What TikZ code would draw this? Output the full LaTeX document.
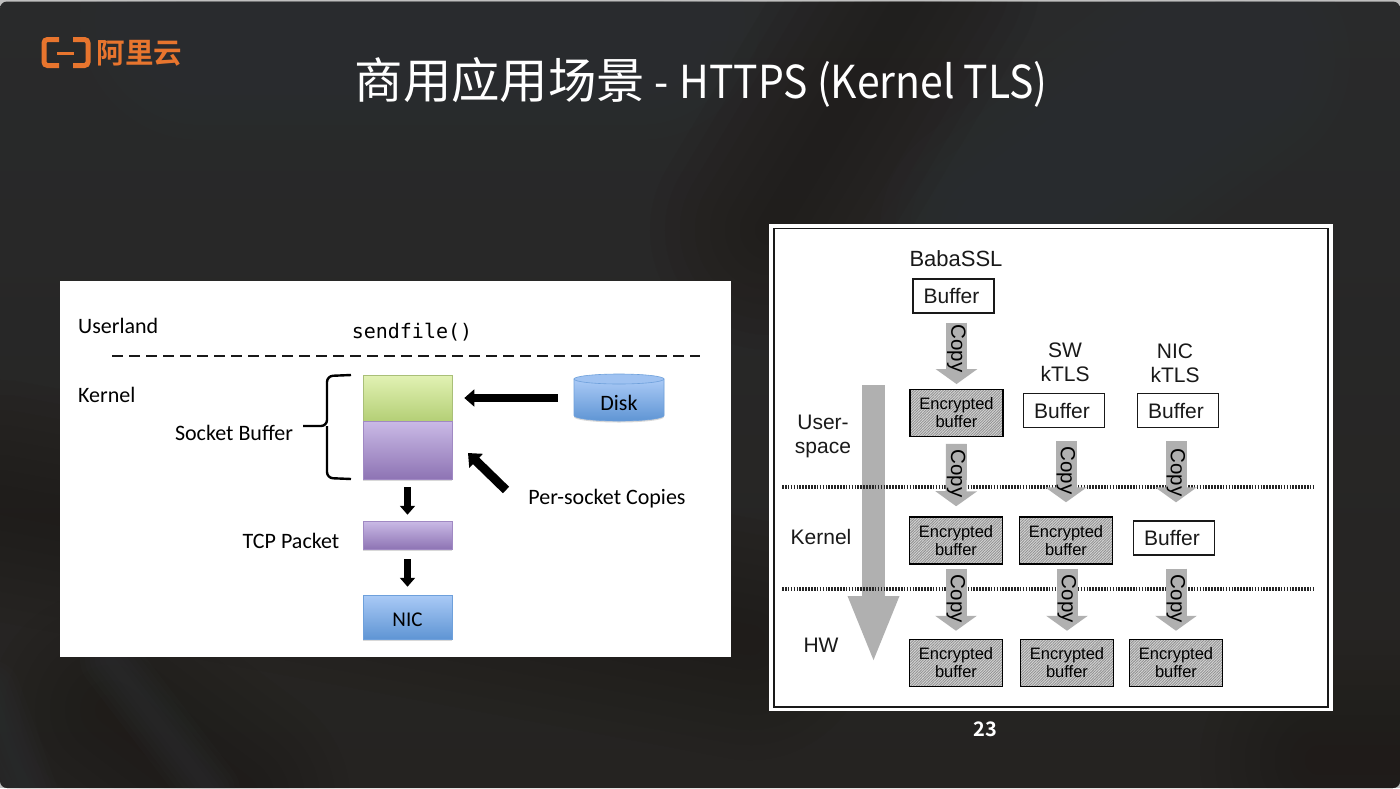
\documentclass[tikz,border=0pt]{standalone}
\usepackage{fontspec}
\newfontfamily\cjk{Noto Sans CJK SC}
\newfontfamily\cjkbold{Noto Sans CJK SC Bold}
\newfontfamily\titlelatin[FakeStretch=.9]{Noto Sans CJK SC}
\newfontfamily\carlito{Carlito}
\newfontfamily\libsans{Liberation Sans}
\newfontfamily\dejamono{DejaVu Sans Mono}
\usetikzlibrary{arrows.meta,patterns.meta,shadows}
\definecolor{slidetop}{HTML}{292A2B}
\definecolor{slidebot}{HTML}{252321}
\definecolor{bluestreak}{HTML}{2F3437}
\definecolor{brownstreak}{HTML}{1F1B18}
\definecolor{logoorange}{HTML}{E8752E}
\definecolor{copygray}{HTML}{B0B0B0}
\definecolor{greentop}{HTML}{E2F2B4}
\definecolor{greenbot}{HTML}{B4CF76}
\definecolor{purpletop}{HTML}{CABAE6}
\definecolor{purplebot}{HTML}{8E74B4}
\definecolor{bluetop}{HTML}{AACAF6}
\definecolor{bluebot}{HTML}{5F95D4}
\tikzset{
  leftlabel/.style={text=black,font=\carlito\fontsize{22}{26}\selectfont},
  rightlabel/.style={text=black!90,align=center,font=\libsans\fontsize{21}{24}\selectfont},
  softshadow/.style={drop shadow={shadow xshift=0pt,shadow yshift=-1.5pt,opacity=.3}},
  stackbox/.style={inner sep=0pt,minimum width=89pt,line width=.6pt,softshadow},
  greenfill/.style={top color=greentop,bottom color=greenbot,draw=greenbot!80!gray},
  purplefill/.style={top color=purpletop,bottom color=purplebot,draw=purplebot!70!purpletop},
  bluefill/.style={top color=bluetop,bottom color=bluebot,draw=bluebot!80!bluetop},
  fatarrow/.style={-{Triangle[width=#1*2.1pt,length=#1*1.25pt]},line width=#1 pt,black},
  bufbox/.style={draw=black!90,line width=1.4pt,fill=white,inner sep=0pt,minimum width=81pt,minimum height=34pt,rightlabel,execute at end node={\hspace{4pt}}},
  encbox/.style={draw=black,line width=1.5pt,inner sep=0pt,minimum width=93pt,minimum height=47pt,
    preaction={fill=gray!30},pattern={Lines[angle=45,distance=1.9pt,line width=.9pt]},pattern color=gray!85,
    align=center,text=black,font=\libsans\fontsize{16.5}{18}\selectfont},
  copyarrow/.style={-{Triangle[width=41pt,length=15pt]},line width=21pt,copygray},
  copylabel/.style={pos=#1,rotate=-90,text=black,inner sep=0pt,font=\libsans\fontsize{20.5}{24}\selectfont},
  copylabel/.default=.46,
  dottedline/.style={line width=4.4pt,black!85,dash pattern=on 1.6pt off 1.3pt},
  softstreak/.style={#1,opacity=.1,line cap=round}
}
\begin{document}
\begin{tikzpicture}[x=1pt,y=-1pt]
\useasboundingbox (0,0) rectangle (1400,788);
\fill[black!25] (0,0) rectangle (1400,788);
\shade[top color=slidetop,bottom color=slidebot,rounded corners=7pt] (0,1.5) rectangle (1400,788);
\begin{scope}
\clip[rounded corners=7pt] (0,1.5) rectangle (1400,788);
\foreach \w in {30,60,...,240} {
  \draw[softstreak=bluestreak,line width=\w pt] (200,20) -- (640,20);
  \draw[softstreak=brownstreak,line width=\w pt] (920,-20) -- (770,230);
  \draw[softstreak=bluestreak,line width=\w pt] (1230,60) -- (1000,230);
  \draw[softstreak=brownstreak,line width=\w pt] (0,500) -- (750,640);
  \draw[softstreak=brownstreak,line width=\w pt] (110,710) -- (230,800);
  \draw[softstreak=brownstreak,line width=\w pt] (1320,760) -- (1420,760);
}
\foreach \w in {10,20,...,60} {
  \draw[softstreak=bluestreak,line width=\w pt] (-10,690) -- (30,800);
  \draw[softstreak=bluestreak,line width=\w pt] (110,660) -- (210,790);
}
\end{scope}

\draw[logoorange,line width=5pt,rounded corners=3.5pt] (59,39.5) -- (44,39.5) -- (44,65.5) -- (59,65.5);
\draw[logoorange,line width=5pt,rounded corners=3.5pt] (73,39.5) -- (88,39.5) -- (88,65.5) -- (73,65.5);
\draw[logoorange,line width=3pt] (57,53) -- (74,53);
\node[text=logoorange,inner sep=0pt,font=\cjkbold\fontsize{28.5}{30}\selectfont] (logotext) at (139.5,53) {阿里云};
\node[text=white,anchor=base west,inner sep=0pt,font=\titlelatin\fontsize{45.4}{50}\selectfont] (title) at (354.5,98.5) {{\cjk\fontsize{48.4}{50}\selectfont 商用应用场景} - \hspace{2pt}HTTPS (Kernel TLS)};
\node[text=white,font=\cjkbold\fontsize{20}{22}\selectfont] (pagenum) at (985,729) {23};

\fill[white] (60,281) rectangle (731,657);
\node[leftlabel,anchor=west,inner sep=0pt] (userland) at (78,326) {Userland};
\node[leftlabel,anchor=west,inner sep=0pt] (kernell) at (78,395) {Kernel};
\node[text=black,font=\dejamono\fontsize{20}{24}\selectfont] (sendfile) at (412,332) {sendfile()};
\coordinate (dashstart) at (112,356);
\coordinate (dashend) at (700,356);
\draw[line width=2.8pt,black!90,dash pattern=on 11pt off 6pt] (dashstart) -- (dashend);
\node[stackbox,greenfill,minimum height=46pt] (greenbuf) at (407.5,398) {};
\node[stackbox,purplefill,minimum height=58pt] (purplebuf) at (407.5,450) {};
\node[stackbox,purplefill,minimum height=28pt] (tcpbuf) at (407.5,535) {};
\node[stackbox,bluefill,minimum height=44pt,text height=19pt,text depth=0pt,text=black,font=\carlito\fontsize{21}{24}\selectfont] (nic) at (407.5,617) {NIC};
\path[bluefill,line width=.6pt,softshadow] (574,379) -- (574,415.5) arc[start angle=180,end angle=360,x radius=45,y radius=-5.5] -- (664,379) -- cycle;
\draw[draw=bluebot!80!bluetop,line width=.6pt,fill=bluetop!85!bluebot] (619,379) ellipse (45 and 5);
\node[inner sep=0pt,minimum width=90pt,text=black,font=\carlito\fontsize{22}{26}\selectfont] (disk) at (619,403) {Disk};
\node[leftlabel] (socketbuf) at (234,433) {Socket Buffer};
\node[leftlabel] (tcplabel) at (291,541) {TCP Packet};
\node[leftlabel] (copies) at (607,498.5) {Per-socket Copies};
\draw[line width=2.4pt,black,rounded corners=6pt] (351,375) -- (327,376) -- (327,426) -- (303,426);
\draw[line width=2.4pt,black,rounded corners=6pt] (351,479) -- (327,478) -- (327,426);
\draw[fatarrow=8,shorten <=16pt,shorten >=12pt] (disk.west |- greenbuf) -- (greenbuf);
\draw[fatarrow=7,shorten <=8pt,shorten >=6pt] (purplebuf) -- (tcpbuf);
\draw[fatarrow=7,shorten <=10pt,shorten >=8pt] (tcpbuf) -- (nic);
\coordinate (copystart) at (506,490);
\coordinate (copytip) at (468,453);
\draw[fatarrow=9] (copystart) -- (copytip);

\fill[white] (769,224) rectangle (1333,711);
\draw[black!90,line width=1.5pt] (774,228.5) rectangle (1328,707);
\coordinate (bigstart) at (873.5,385);
\coordinate (bigtip) at (873.5,664);
\draw[-{Triangle[width=46pt,length=68pt]},line width=23pt,copygray] (bigstart) -- (bigtip);
\coordinate (linealeft) at (782,487);
\coordinate (linearight) at (1315,487);
\coordinate (linebleft) at (782,589);
\coordinate (linebright) at (1315,589);
\draw[dottedline] (linealeft) -- (linearight);
\draw[dottedline] (linebleft) -- (linebright);
\node[rightlabel,font=\libsans\fontsize{22}{24}\selectfont] (babassl) at (956,259) {BabaSSL};
\node[rightlabel] (swktls) at (1065,362.5) {SW\\kTLS};
\node[rightlabel] (nicktls) at (1175,363) {NIC\\kTLS};
\node[rightlabel] (userspace) at (823,436) {User-\\space};
\node[rightlabel] (kernelr) at (821,537) {Kernel};
\node[rightlabel] (hw) at (821,645) {HW};
\node[bufbox] (bufa) at (953.5,296) {Buffer};
\node[bufbox] (bufb) at (1064,410.5) {Buffer};
\node[bufbox] (bufc) at (1178,410.5) {Buffer};
\node[bufbox] (bufd) at (1174,538) {Buffer};
\node[encbox] (enca) at (956.5,413) {Encrypted\\buffer};
\node[encbox] (encb) at (956,540.5) {Encrypted\\buffer};
\node[encbox] (encc) at (1066,540.5) {Encrypted\\buffer};
\node[encbox] (encd) at (956,663) {Encrypted\\buffer};
\node[encbox] (ence) at (1067,663) {Encrypted\\buffer};
\node[encbox] (encf) at (1176,663) {Encrypted\\buffer};
\draw[copyarrow,shorten <=9pt,shorten >=5pt] (bufa.south -| enca) -- node[copylabel] {Copy} (enca);
\draw[copyarrow,shorten <=7pt,shorten >=10pt] (enca) -- node[copylabel] {Copy} (encb);
\draw[copyarrow,shorten <=13pt,shorten >=14pt] (bufb.south -| encc) -- node[copylabel=.48] {Copy} (encc);
\draw[copyarrow,shorten <=13pt,shorten >=18pt] (bufc.south -| encf) -- node[copylabel=.48] {Copy} (bufd.north -| encf);
\draw[copyarrow,shorten <=4pt,shorten >=8pt] (encb) -- node[copylabel=.46] {Copy} (encd);
\draw[copyarrow,shorten <=4pt,shorten >=8pt] (encc.south -| ence) -- node[copylabel=.46] {Copy} (ence);
\draw[copyarrow,shorten <=13pt,shorten >=8pt] (bufd.south -| encf) -- node[copylabel=.52] {Copy} (encf);
\end{tikzpicture}
\end{document}
